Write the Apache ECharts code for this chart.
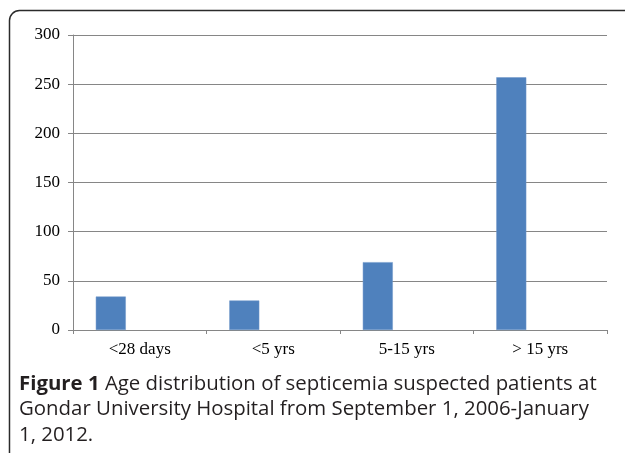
<!DOCTYPE html>
<html>
<head>
<meta charset="utf-8">
<script src="https://cdn.jsdelivr.net/npm/echarts@6/dist/echarts.min.js"></script>
<style>
  html, body { margin: 0; padding: 0; background: #fff; }
  #chart { width: 625px; height: 453px; }
</style>
</head>
<body>
<div id="chart"></div>
<script>
// age groups and patient counts
var categories = ['<28 days', '<5 yrs', '5-15 yrs', '> 15 yrs'];
var patients = [34, 30, 69, 257];
var emptySeries = [null, null, null, null]; // excel's blank second series
var yTicks = { min: 0, max: 300, interval: 50 };
var captionLines = [
  ['Figure 1', ' Age distribution of septicemia suspected patients at'],
  ['', 'Gondar University Hospital from September 1, 2006-January'],
  ['', '1, 2012.']
];

var chart = echarts.init(document.getElementById('chart'));

var captionGraphics = captionLines.map(function (ln, i) {
  var txt = (ln[0] ? '{b|' + ln[0] + '}' : '') + '{n|' + ln[1] + '}';
  return {
    type: 'text',
    left: 19,
    top: 374 + i * 25.5,
    style: {
      text: txt,
      rich: {
        b: { fontFamily: 'Open Sans', fontWeight: 'bold', fontSize: 20.4, fill: '#231f20' },
        n: { fontFamily: 'Open Sans', fontWeight: 500, fontSize: 20.4, fill: '#231f20' }
      }
    }
  };
});

var option = {
  animation: false,
  backgroundColor: '#fff',
  grid: { left: 73, right: 18, top: 35, bottom: 123 },
  xAxis: {
    type: 'category',
    data: categories,
    axisLine: { lineStyle: { color: '#868686', width: 1 } },
    axisTick: { show: true, length: 4, lineStyle: { color: '#868686' } },
    axisLabel: { color: '#000', fontFamily: 'Liberation Serif', fontSize: 17, margin: 11 },
    splitLine: { show: false }
  },
  yAxis: {
    type: 'value',
    min: yTicks.min,
    max: yTicks.max,
    interval: yTicks.interval,
    axisLine: { show: true, lineStyle: { color: '#868686', width: 1 } },
    axisTick: { show: true, length: 5, lineStyle: { color: '#868686' } },
    axisLabel: { color: '#000', fontFamily: 'Liberation Serif', fontSize: 17, margin: 13 },
    splitLine: { show: true, lineStyle: { color: '#868686', width: 1 } }
  },
  series: [
    {
      name: 'Patients',
      type: 'bar',
      data: patients,
      barWidth: 30,
      barGap: '93%',
      itemStyle: { color: '#4f81bd', borderColor: '#6f97c9', borderWidth: 0.5 }
    },
    {
      name: 'blank',
      type: 'bar',
      data: emptySeries,
      barWidth: 30
    }
  ],
  graphic: [
    {
      type: 'rect',
      z: -1,
      shape: { x: 9.5, y: 10.5, width: 700, height: 600, r: 10 },
      style: { fill: 'none', stroke: '#2b2b2b', lineWidth: 1.5 }
    }
  ].concat(captionGraphics)
};

chart.setOption(option);
window.onresize = function () { chart.resize(); };
</script>
</body>
</html>
